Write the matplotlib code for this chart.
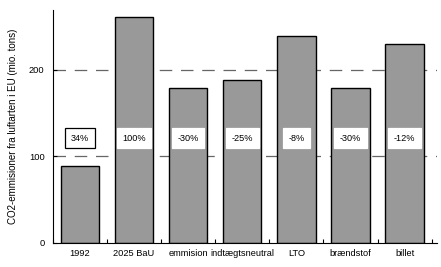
import matplotlib.pyplot as plt
import numpy as np

plt.rcParams['font.family'] = ['Liberation Sans', 'DejaVu Sans']

categories = ['1992', '2025 BaU', 'emmision', 'indtægtsneutral', 'LTO', 'brændstof', 'billet']
values = [89, 261, 179, 188, 239, 179, 230]
labels = ['34%', '100%', '-30%', '-25%', '-8%', '-30%', '-12%']

fig = plt.figure(figsize=(4.41, 2.67), dpi=100)
ax = fig.add_axes([0.12, 0.09, 0.871, 0.872])

x = np.arange(len(categories))
ax.bar(x, values, width=0.71, color='#999999', edgecolor='black', linewidth=1.0, zorder=2)

for yy in [100, 200]:
    ax.axhline(yy, color='#666666', linewidth=0.9, dashes=(10, 7), zorder=1)

for i, lab in enumerate(labels):
    ec = 'black' if i == 0 else 'white'
    ax.text(x[i], 121, lab, ha='center', va='center', fontsize=6.6, zorder=3,
            bbox=dict(boxstyle='square,pad=0.6', facecolor='white', edgecolor=ec, linewidth=0.9))

ax.set_xlim(-0.48, 6.6)
ax.set_ylim(0, 269)
ax.set_yticks([0, 100, 200])
ax.set_xticks(x)
ax.set_xticklabels(categories)
ax.set_xticks(np.arange(-0.5, 7, 1), minor=True)
ax.tick_params(axis='x', which='major', length=0, labelsize=6.7, pad=4)
ax.tick_params(axis='x', which='minor', length=3, direction='in', width=0.8)
ax.tick_params(axis='y', labelsize=6.7, length=3, width=0.8, direction='in', pad=6)
ax.set_ylabel('CO2-emmisioner fra luftarten i EU (mio. tons)', fontsize=7.0, labelpad=8)

ax.spines['top'].set_visible(False)
ax.spines['right'].set_visible(False)

fig.savefig('out.png', dpi=100)
